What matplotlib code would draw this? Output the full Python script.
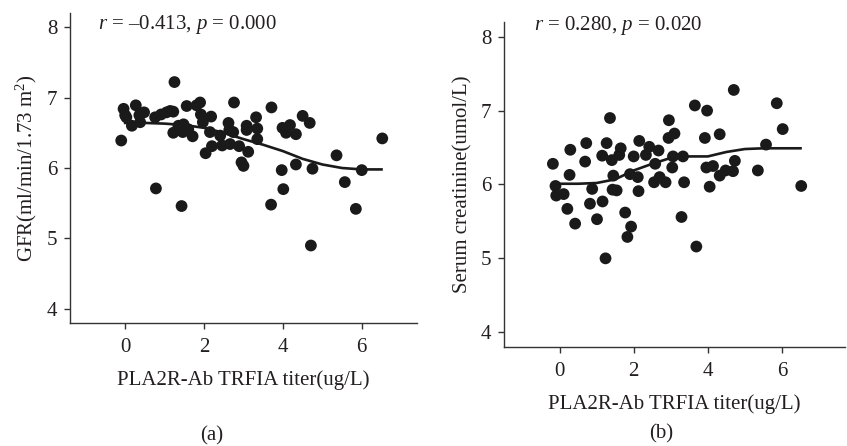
import numpy as np
import matplotlib
matplotlib.use("Agg")
import matplotlib.pyplot as plt

plt.rcParams['font.family'] = ['Liberation Serif', 'DejaVu Serif']
plt.rcParams['mathtext.fontset'] = 'custom'
plt.rcParams['mathtext.rm'] = 'Liberation Serif'
plt.rcParams['mathtext.it'] = 'Liberation Serif:italic'

# panel (a): titer vs GFR
titer_a = [-0.10, -0.04, 0.00, 0.03, 0.17, 0.27, 0.36, 0.38, 0.48, 0.76, 0.78, 0.91,
           1.05, 1.14, 1.22, 1.25, 1.22, 1.35, 1.43, 1.48, 1.46, 1.56, 1.60, 1.71,
           1.81, 1.90, 1.92, 1.97, 2.04, 2.18, 2.15, 2.20, 2.41, 2.46, 2.62, 2.64,
           2.66, 2.74, 2.76, 2.89, 2.95, 3.00, 3.08, 3.08, 3.12, 3.32, 3.35, 3.35,
           3.70, 3.71, 3.97, 3.99, 4.01, 4.08, 4.18, 4.33, 4.33, 4.50, 4.68, 4.71,
           4.75, 5.36, 5.57, 5.85, 6.00, 6.52]
gfr = [6.39, 6.84, 6.75, 6.72, 6.60, 6.89, 6.75, 6.65, 6.79, 6.72, 5.71, 6.76,
       6.79, 6.81, 6.80, 7.22, 6.50, 6.60, 5.46, 6.62, 6.51, 6.88, 6.55, 6.45,
       6.89, 6.93, 6.76, 6.65, 6.21, 6.73, 6.51, 6.31, 6.46, 6.32, 6.64, 6.54,
       6.34, 6.51, 6.93, 6.31, 6.08, 6.03, 6.60, 6.54, 6.23, 6.72, 6.56, 6.41,
       5.48, 6.86, 5.97, 6.57, 5.70, 6.50, 6.61, 6.48, 6.05, 6.74, 6.64, 4.90,
       5.99, 6.18, 5.80, 5.42, 5.97, 6.42]
fit_x_a = [0, 0.5, 1, 1.5, 2, 2.5, 3, 3.5, 4, 4.5, 5, 5.5, 6, 6.5]
fit_y_a = [6.64, 6.64, 6.63, 6.61, 6.57, 6.50, 6.41, 6.33, 6.24, 6.13, 6.05, 6.00, 5.98, 5.98]

# panel (b): titer vs serum creatinine
titer_b = [-0.18, -0.11, -0.09, 0.11, 0.21, 0.27, 0.29, 0.42, 0.69, 0.72, 0.82, 0.88,
           1.01, 1.15, 1.16, 1.24, 1.27, 1.36, 1.41, 1.45, 1.43, 1.54, 1.61, 1.65,
           1.77, 1.83, 1.93, 1.90, 2.00, 2.11, 2.13, 2.15, 2.33, 2.42, 2.55, 2.58,
           2.67, 2.70, 2.86, 2.94, 2.95, 3.04, 3.06, 3.10, 3.29, 3.33, 3.36, 3.65,
           3.69, 3.92, 3.96, 3.98, 4.05, 4.14, 4.32, 4.32, 4.48, 4.68, 4.70, 4.73,
           5.35, 5.57, 5.86, 6.02, 6.52]
scr = [6.28, 5.98, 5.85, 5.87, 5.67, 6.13, 6.47, 5.47, 6.31, 6.56, 5.74, 5.94,
       5.53, 6.39, 5.77, 5.00, 6.56, 6.90, 6.33, 6.12, 5.93, 5.92, 6.40, 6.49,
       5.62, 5.29, 5.43, 6.14, 6.38, 6.10, 5.91, 6.59, 6.40, 6.51, 6.03, 6.28,
       6.46, 6.10, 6.03, 6.63, 6.87, 6.23, 6.38, 6.69, 5.56, 6.38, 6.03, 7.07,
       5.16, 6.63, 6.23, 7.00, 5.97, 6.25, 6.12, 6.68, 6.19, 6.18, 7.28, 6.32,
       6.19, 6.54, 7.10, 6.75, 5.98]
fit_x_b = [0, 0.5, 1, 1.5, 2, 2.5, 3, 3.5, 4, 4.5, 5, 5.5, 6, 6.5]
fit_y_b = [6.01, 6.01, 6.02, 6.07, 6.19, 6.28, 6.36, 6.38, 6.38, 6.44, 6.48, 6.49, 6.49, 6.49]

ink = '#1a1a1a'
fs = 15
fig = plt.figure(figsize=(8.47, 4.46), dpi=100)
ax_a = fig.add_axes([0.0826, 0.2758, 0.4097, 0.695])
ax_b = fig.add_axes([0.595, 0.222, 0.4026, 0.7287])


def draw_panel(ax, x, y, fx, fy, ylabel, note, note_y, xlim):
    ax.scatter(x, y, s=72, color=ink, edgecolors='none', zorder=3)
    ax.plot(fx, fy, color=ink, lw=1.9, zorder=2)
    ax.set_xlim(*xlim)
    ax.set_ylim(3.8, 8.2)
    ax.set_xticks([0, 2, 4, 6])
    ax.set_yticks([4, 5, 6, 7, 8])
    for s in ['top', 'right']:
        ax.spines[s].set_visible(False)
    for s in ['left', 'bottom']:
        ax.spines[s].set_color('#333333')
        ax.spines[s].set_linewidth(1.0)
    ax.tick_params(direction='out', length=4, width=1.0, colors='#333333',
                   labelsize=fs, labelcolor='#231f20', pad=5)
    ax.tick_params(axis='x', pad=7)
    ax.set_xlabel('PLA2R-Ab TRFIA titer(ug/L)', fontsize=fs, color='#231f20', labelpad=9)
    ax.set_ylabel(ylabel, fontsize=fs, color='#231f20', labelpad=6)
    ax.text(-0.7, note_y, note, fontsize=fs, color='#231f20', va='center', ha='left')


draw_panel(ax_a, titer_a, gfr, fit_x_a, fit_y_a, 'GFR(ml/min/1.73 m$^2$)',
           '$r$ = \u20130.413, $p$ = 0.000', 8.03, (-1.4, 7.4))
draw_panel(ax_b, titer_b, scr, fit_x_b, fit_y_b, 'Serum creatinine(umol/L)',
           '$r$ = 0.280, $p$ = 0.020', 8.15, (-1.5, 7.7))

fig.text(212 / 847, 1 - 436 / 446, '(a)', fontsize=fs, color='#231f20', ha='center', va='center')
fig.text(661 / 847, 1 - 434 / 446, '(b)', fontsize=fs, color='#231f20', ha='center', va='center')

fig.savefig('out.png', dpi=100)
